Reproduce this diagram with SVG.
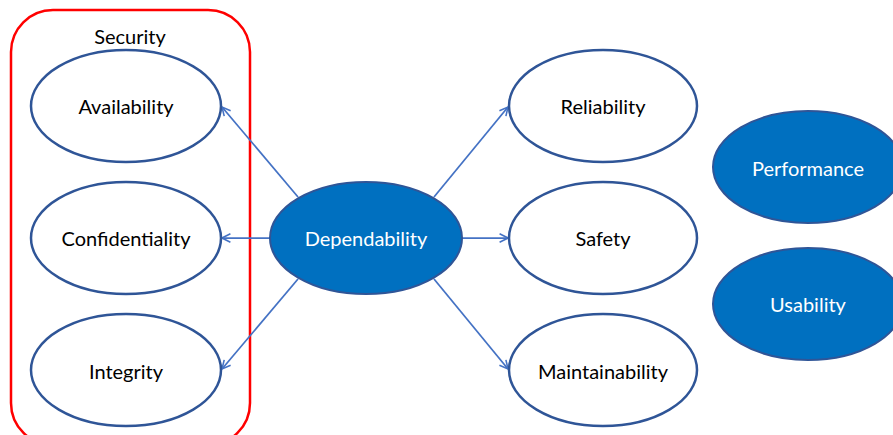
<svg xmlns="http://www.w3.org/2000/svg" width="893" height="435" viewBox="0 0 893 435">
<defs>
<style>
.o{fill:#fff;stroke:#2F5597;stroke-width:2.5}
.f{fill:#0070C0;stroke:#2F5597;stroke-width:2}
.t{font-family:Lato,"Open Sans",sans-serif;font-size:20px;fill:#000;text-anchor:middle;dominant-baseline:central}
.w{fill:#fff}
.c{stroke:#4472C4;stroke-width:1.75;fill:none;marker-end:url(#a)}
</style>
<marker id="a" viewBox="0 0 10 10" refX="9" refY="5" markerWidth="6" markerHeight="6" orient="auto" markerUnits="strokeWidth">
<path d="M1,1 L9,5 L1,9" fill="none" stroke="#4472C4" stroke-width="1.5"/>
</marker>
</defs>
<rect width="893" height="435" fill="#fff"/>
<g id="security">
<rect x="11" y="10" width="239" height="435" rx="42" fill="none" stroke="#FF0000" stroke-width="2.5"/>
<text class="t" x="130" y="36">Security</text>
</g>
<g id="connectors">
<line class="c" x1="298" y1="197" x2="222" y2="107"/>
<line class="c" x1="270" y1="238" x2="222" y2="238"/>
<line class="c" x1="298" y1="279" x2="222" y2="369"/>
<line class="c" x1="434" y1="197" x2="508" y2="107"/>
<line class="c" x1="462" y1="238" x2="508" y2="238"/>
<line class="c" x1="434" y1="279" x2="508" y2="369"/>
</g>
<g id="availability"><ellipse class="o" cx="126" cy="106" rx="95" ry="56"/><text class="t" x="126" y="106">Availability</text></g>
<g id="confidentiality"><ellipse class="o" cx="126" cy="238" rx="95" ry="56"/><text class="t" x="126" y="238">Confidentiality</text></g>
<g id="integrity"><ellipse class="o" cx="126" cy="370" rx="95" ry="56"/><text class="t" x="126" y="371">Integrity</text></g>
<g id="dependability"><ellipse class="f" cx="366" cy="238" rx="96" ry="56"/><text class="t w" x="366" y="238">Dependability</text></g>
<g id="reliability"><ellipse class="o" cx="603" cy="106" rx="94" ry="56"/><text class="t" x="603" y="106">Reliability</text></g>
<g id="safety"><ellipse class="o" cx="603" cy="238" rx="94" ry="56"/><text class="t" x="603" y="238">Safety</text></g>
<g id="maintainability"><ellipse class="o" cx="603" cy="370" rx="94" ry="56"/><text class="t" x="603" y="371">Maintainability</text></g>
<g id="performance"><ellipse class="f" cx="808" cy="167" rx="95" ry="56"/><text class="t w" x="808" y="168">Performance</text></g>
<g id="usability"><ellipse class="f" cx="808" cy="304" rx="95" ry="56"/><text class="t w" x="808" y="304">Usability</text></g>
</svg>
